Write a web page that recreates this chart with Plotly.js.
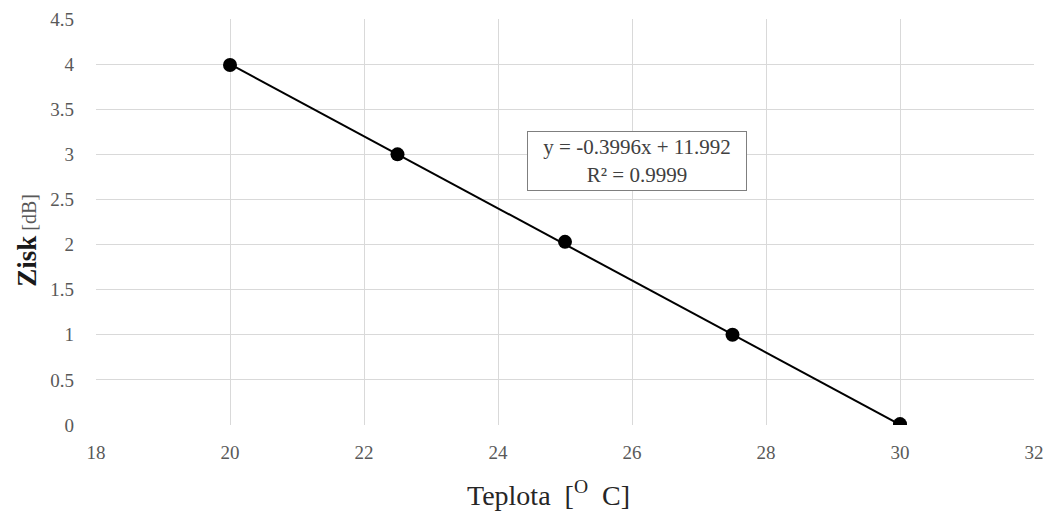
<!DOCTYPE html>
<html>
<head>
<meta charset="utf-8">
<script src="https://cdn.plot.ly/plotly-3.0.1.min.js"></script>
<style>
  html, body { margin: 0; padding: 0; background: #ffffff; }
  #chart { width: 1055px; height: 514px; }
</style>
</head>
<body>
<div id="chart"></div>
<script>
// Measured gain vs. temperature
const teplota = [20, 22.5, 25, 27.5, 30];
const zisk = [3.99, 3.0, 2.03, 1.0, 0.01];

// Linear trendline coefficients
const slope = -0.3996;
const intercept = 11.992;
const rSquared = 0.9999;

const xTicks = [18, 20, 22, 24, 26, 28, 30, 32];
const yTicks = [0, 0.5, 1, 1.5, 2, 2.5, 3, 3.5, 4, 4.5];

const trendX = [Math.min(...teplota), Math.max(...teplota)];
const trendY = trendX.map(x => slope * x + intercept);

const serif = "Liberation Serif, Times New Roman, serif";

const traces = [
  {
    x: trendX, y: trendY, type: "scatter", mode: "lines",
    line: { color: "#000000", width: 2 },
    hoverinfo: "skip", showlegend: false
  },
  {
    x: teplota, y: zisk, type: "scatter", mode: "markers",
    marker: { color: "#000000", size: 14 },
    showlegend: false
  }
];

const fmt = v => v.toFixed(4).replace(/0+$/, "").replace(/\.$/, "");

const layout = {
  width: 1055, height: 514,
  margin: { l: 96, r: 21, t: 19, b: 89 },
  paper_bgcolor: "#ffffff", plot_bgcolor: "#ffffff",
  showlegend: false,
  xaxis: {
    range: [18, 32], tickvals: xTicks, ticktext: xTicks.map(String),
    showgrid: true, gridcolor: "#d9d9d9", gridwidth: 1,
    zeroline: false, showline: false, ticks: "",
    ticklabelstandoff: 14,
    tickfont: { family: serif, size: 19, color: "#595959" }
  },
  yaxis: {
    range: [0, 4.5], tickvals: yTicks, ticktext: yTicks.map(String),
    showgrid: true, gridcolor: "#d9d9d9", gridwidth: 1,
    zeroline: false, showline: false, ticks: "",
    ticklabelstandoff: 21,
    tickfont: { family: serif, size: 19, color: "#595959" }
  },
  annotations: [
    {
      x: 26.07, y: 2.93, xref: "x", yref: "y",
      text: "y = " + fmt(slope) + "x + " + intercept + "<br>R² = " + rSquared,
      showarrow: false, align: "center",
      font: { family: serif, size: 21, color: "#404040" },
      bgcolor: "#ffffff", bordercolor: "#7f7f7f", borderwidth: 1, borderpad: 1,
      width: 216, height: 56
    },
    {
      x: 0.482, y: -0.12, xref: "paper", yref: "paper",
      xanchor: "center", yanchor: "top",
      text: "Teplota  [<sup>O</sup>  C]",
      showarrow: false,
      font: { family: serif, size: 28, color: "#262626" }
    },
    {
      x: -0.073, y: 0.455, xref: "paper", yref: "paper",
      xanchor: "center", yanchor: "middle", textangle: -90,
      text: "<span style='font-size:27px;color:#1a1a1a'><b>Zisk</b></span><span style='font-size:20px;color:#595959'> [dB]</span>",
      showarrow: false,
      font: { family: serif, size: 22, color: "#262626" }
    }
  ]
};

Plotly.newPlot("chart", traces, layout, { displayModeBar: false, staticPlot: true });
</script>
</body>
</html>
